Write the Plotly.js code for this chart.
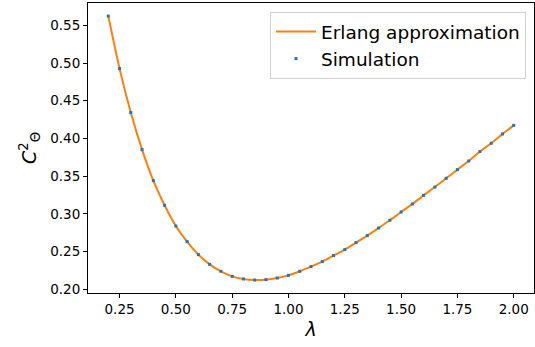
<!DOCTYPE html>
<html>
<head>
<meta charset="utf-8">
<script src="https://cdn.plot.ly/plotly-3.0.1.min.js"></script>
<style>html,body{margin:0;padding:0;background:#fff;}#chart{width:535px;height:347px;}</style>
</head>
<body>
<div id="chart"></div>
<script>
const lambdaVals = [0.20,0.25,0.30,0.35,0.40,0.45,0.50,0.55,0.60,0.65,0.70,0.75,0.80,0.85,0.90,0.95,1.00,1.05,1.10,1.15,1.20,1.25,1.30,1.35,1.40,1.45,1.50,1.55,1.60,1.65,1.70,1.75,1.80,1.85,1.90,1.95,2.00];
const erlangVals = [0.5623,0.4926,0.4343,0.3852,0.3441,0.3114,0.2839,0.2632,0.2460,0.2331,0.2239,0.2172,0.2137,0.2123,0.2128,0.2150,0.2185,0.2239,0.2301,0.2367,0.2447,0.2526,0.2619,0.2712,0.2813,0.2915,0.3025,0.3131,0.3246,0.3356,0.3472,0.3587,0.3701,0.3826,0.3936,0.4059,0.4174];
const simVals = [0.5623,0.4926,0.4343,0.3852,0.3441,0.3114,0.2839,0.2632,0.2460,0.2331,0.2239,0.2172,0.2137,0.2123,0.2128,0.2150,0.2185,0.2239,0.2301,0.2367,0.2447,0.2526,0.2619,0.2712,0.2813,0.2915,0.3025,0.3131,0.3246,0.3356,0.3472,0.3587,0.3701,0.3826,0.3936,0.4059,0.4174];
const xTicks = [0.25,0.50,0.75,1.00,1.25,1.50,1.75,2.00];
const yTicks = [0.20,0.25,0.30,0.35,0.40,0.45,0.50,0.55];

const font = 'DejaVu Sans, sans-serif';
const traces = [
  {x: lambdaVals, y: erlangVals, type: 'scatter', mode: 'lines', name: 'Erlang approximation',
   line: {color: '#ff7f0e', width: 2, shape: 'spline', smoothing: 0.6}},
  {x: lambdaVals, y: simVals, type: 'scatter', mode: 'markers', name: 'Simulation',
   marker: {color: '#1f77b4', symbol: 'square', size: 3}}
];
const axisBase = {showgrid: false, zeroline: false, showline: true, linecolor: '#000', linewidth: 1,
  mirror: true, ticks: 'outside', ticklen: 4, tickwidth: 1, tickcolor: '#000',
  tickfont: {family: font, size: 13.5, color: '#000'}};
const layout = {
  width: 535, height: 347,
  margin: {l: 88, r: 1, t: 3, b: 54},
  paper_bgcolor: '#fff', plot_bgcolor: '#fff',
  showlegend: true,
  legend: {x: 0.982, xanchor: 'right', y: 0.969, yanchor: 'top', bgcolor: 'rgba(255,255,255,0.8)',
    bordercolor: '#d0d0d0', borderwidth: 1, font: {family: font, size: 18.5, color: '#000'},
    tracegroupgap: 0, itemwidth: 40},
  xaxis: Object.assign({}, axisBase, {range: [0.11, 2.09], tickvals: xTicks,
    ticktext: xTicks.map(v => v.toFixed(2)),
    title: {text: 'λ', font: {family: font, size: 19, color: '#000', style: 'italic'}, standoff: 6}}),
  yaxis: Object.assign({}, axisBase, {range: [0.1951, 0.5796], tickvals: yTicks,
    ticktext: yTicks.map(v => v.toFixed(2)),
    title: {text: '<i>C</i><sup>2</sup><sub>Θ</sub>', font: {family: font, size: 19, color: '#000'}, standoff: 8}})
};
Plotly.newPlot('chart', traces, layout, {displayModeBar: false, staticPlot: true});
</script>
</body>
</html>
